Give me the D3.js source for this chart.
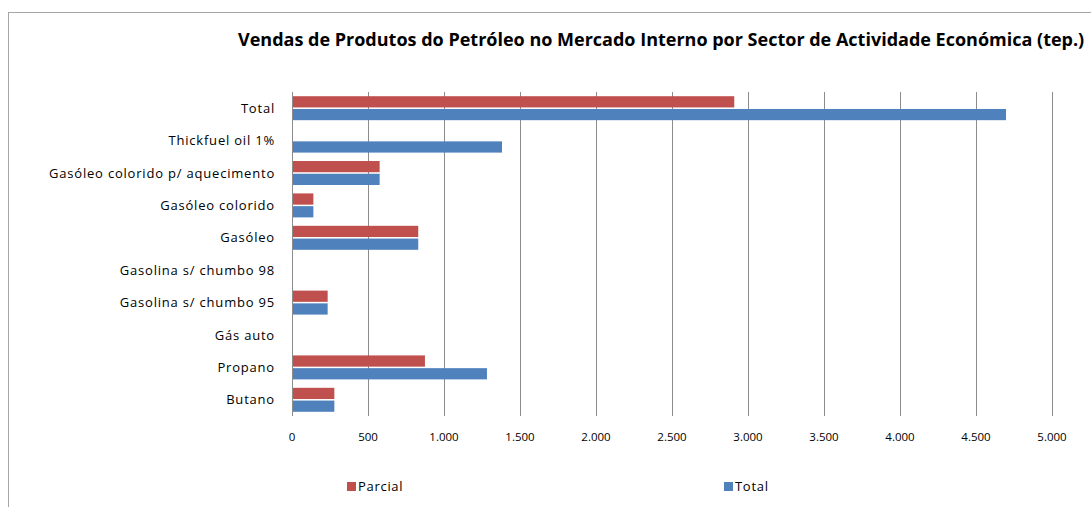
<!DOCTYPE html>
<meta charset="utf-8">
<title>Vendas de Produtos do Petróleo</title>
<style>
  body { margin: 0; background: #fff; }
  svg text { font-family: "Open Sans", "DejaVu Sans", sans-serif; fill: #000; }
</style>
<svg width="1091" height="507"></svg>
<script src="https://cdnjs.cloudflare.com/ajax/libs/d3/7.8.5/d3.min.js"></script>
<script>

  var categories = ["Total", "Thickfuel oil 1%", "Gasóleo colorido p/ aquecimento", "Gasóleo colorido",
                    "Gasóleo", "Gasolina s/ chumbo 98", "Gasolina s/ chumbo 95", "Gás auto", "Propano", "Butano"];
  var parcial = [2903, 0, 570, 134, 824, 0, 228, 0, 868, 272];
  var total   = [4691, 1375, 570, 134, 824, 0, 228, 0, 1276, 272];
  var seriesNames = ["Parcial", "Total"];
  var ticks = [0, 500, 1000, 1500, 2000, 2500, 3000, 3500, 4000, 4500, 5000];

  var colors = { "Parcial": "#C0504D", "Total": "#4F81BD" };

  var svg = d3.select("svg");

  // outer chart border
  svg.append("rect")
      .attr("x", 8.5).attr("y", 12.5)
      .attr("width", 1200).attr("height", 600)
      .attr("fill", "none").attr("stroke", "#a6a6a6");

  var plotLeft = 292, plotRight = 1052, plotTop = 92, plotBottom = 416;

  var x = d3.scaleLinear().domain([0, 5000]).range([plotLeft, plotRight]);

  var y = d3.scaleBand().domain(categories).range([plotTop, plotBottom])
      .paddingInner(0.26).paddingOuter(0.13);

  var ySub = d3.scaleBand().domain(seriesNames).range([0, y.bandwidth()]).paddingInner(0.12);

  // gridlines
  svg.append("g").selectAll("line")
      .data(ticks)
      .enter().append("line")
      .attr("x1", function(d) { return Math.round(x(d)) + 0.5; })
      .attr("x2", function(d) { return Math.round(x(d)) + 0.5; })
      .attr("y1", plotTop).attr("y2", plotBottom)
      .attr("stroke", "#8c8c8c")
      .attr("stroke-width", 1);

  var rows = categories.map(function(c, i) {
    return { cat: c, values: [{ s: "Parcial", v: parcial[i] }, { s: "Total", v: total[i] }] };
  });

  var g = svg.append("g").selectAll("g")
      .data(rows)
      .enter().append("g")
      .attr("transform", function(d) { return "translate(0," + y(d.cat) + ")"; });

  g.selectAll("rect")
      .data(function(d) { return d.values.filter(function(e) { return e.v > 0; }); })
      .enter().append("rect")
      .attr("x", x(0) + 1)
      .attr("y", function(d) { return ySub(d.s); })
      .attr("width", function(d) { return x(d.v) - x(0); })
      .attr("height", ySub.bandwidth())
      .attr("fill", function(d) { return colors[d.s]; });

  // category labels
  svg.append("g").selectAll("text")
      .data(categories)
      .enter().append("text")
      .attr("x", 275)
      .attr("y", function(d) { return y(d) + y.bandwidth() / 2; })
      .attr("dy", "0.35em")
      .attr("text-anchor", "end")
      .style("font-size", "13px")
      .style("letter-spacing", "0.8px")
      .text(function(d) { return d; });

  // x tick labels
  var fmt = function(d) { return d3.format(",")(d).replace(/,/g, "."); };
  svg.append("g").selectAll("text")
      .data(ticks)
      .enter().append("text")
      .attr("x", function(d) { return x(d); })
      .attr("y", 437)
      .attr("dy", "0.35em")
      .attr("text-anchor", "middle")
      .style("font-size", "11.5px")
      .text(fmt);

  // title
  svg.append("text")
      .attr("x", 238).attr("y", 40)
      .attr("dy", "0.35em")
      .style("font-size", "18px")
      .style("font-weight", "bold")
      .text("Vendas de Produtos do Petróleo no Mercado Interno por Sector de Actividade Económica (tep.)");

  // legend
  var legendX = { "Parcial": 347, "Total": 724 };
  var lg = svg.append("g").selectAll("g")
      .data(seriesNames)
      .enter().append("g")
      .attr("transform", function(d) { return "translate(" + legendX[d] + ",482)"; });
  lg.append("rect").attr("width", 9).attr("height", 9)
      .attr("fill", function(d) { return colors[d]; });
  lg.append("text").attr("x", 11).attr("y", 4.5).attr("dy", "0.35em")
      .style("font-size", "13px")
      .style("letter-spacing", "0.7px")
      .text(function(d) { return d; });

</script>
